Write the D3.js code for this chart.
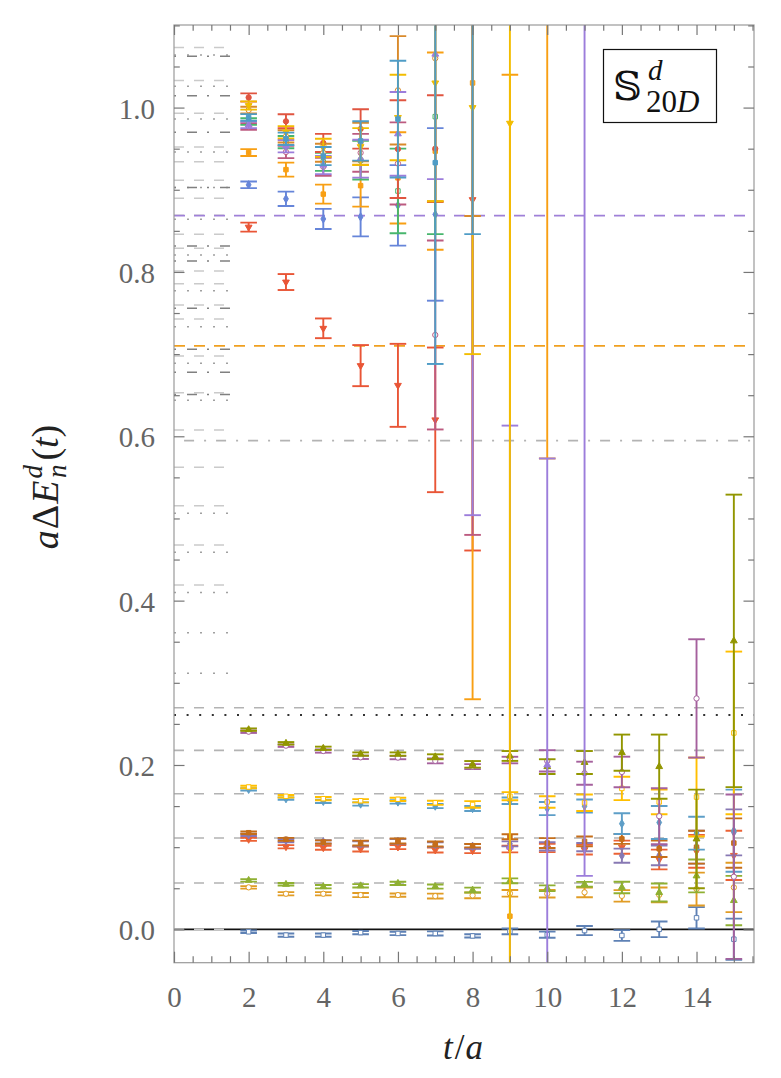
<!DOCTYPE html>
<html><head><meta charset="utf-8">
<script src="https://cdn.jsdelivr.net/npm/d3@7"></script>
<style>body{margin:0;background:#fff}</style>
</head><body>
<svg id="c" width="781" height="1078"></svg>
<script>
// ---------------- data ----------------
const T = [2,3,4,5,6,7,8,9,10,11,12,13,14,15];

// lower band (t = 2..15)
const blueV   = [-0.003,-0.007,-0.007,-0.004,-0.005,-0.005,-0.008,-0.0025,-0.0065,-0.0015,-0.0075,0.0,0.014,-0.012];
const blueE   = [0.0015,0.002,0.002,0.002,0.002,0.0025,0.002,0.0035,0.0037,0.0055,0.0065,0.0095,0.013,0.025];
const orangeV = [0.0511,0.0433,0.0433,0.0417,0.0417,0.0405,0.0413,0.0438,0.0433,0.045,0.0407,0.042,0.049,0.051];
const orangeE = [0.0015,0.002,0.002,0.0025,0.002,0.003,0.0035,0.004,0.0045,0.006,0.007,0.009,0.02,0.03];
const greenV  = [0.0596,0.0548,0.0519,0.053,0.056,0.052,0.0478,0.059,0.050,0.0548,0.051,0.0448,0.065,0.035];
const greenE  = [0.0015,0.0015,0.002,0.002,0.002,0.0025,0.003,0.003,0.0035,0.003,0.007,0.011,0.02,0.03];
const redV    = [0.1095,0.1005,0.0993,0.0977,0.1001,0.0965,0.0957,0.0977,0.099,0.097,0.10,0.085,0.095,0.09];
const redE    = [0.0018,0.002,0.0025,0.003,0.0025,0.003,0.003,0.004,0.005,0.006,0.008,0.012,0.02,0.03];
const purpleV = [0.115,0.108,0.1065,0.104,0.107,0.103,0.101,0.104,0.101,0.100,0.0896,0.09,0.10,0.118];
const purpleE = [0.0015,0.002,0.002,0.003,0.003,0.003,0.003,0.003,0.005,0.005,0.0086,0.012,0.02,0.028];
const brownV  = [0.1176,0.1095,0.1062,0.105,0.1075,0.1038,0.1018,0.1127,0.105,0.107,0.11,0.098,0.10,0.105];
const brownE  = [0.0015,0.0018,0.002,0.003,0.003,0.003,0.002,0.003,0.006,0.006,0.006,0.01,0.02,0.03];
const ltblueV = [0.1704,0.159,0.1558,0.1525,0.155,0.150,0.147,0.1565,0.147,0.15,0.1286,0.13,0.117,0.12];
const ltblueE = [0.0015,0.0015,0.002,0.002,0.002,0.0025,0.003,0.004,0.008,0.008,0.0126,0.02,0.02,0.05];
const yellowV = [0.1732,0.1619,0.159,0.1565,0.1582,0.154,0.152,0.162,0.155,0.154,0.1715,0.155,0.161,0.239];
const yellowE = [0.0015,0.0015,0.002,0.002,0.002,0.0025,0.004,0.005,0.007,0.01,0.0142,0.015,0.048,0.099];
const pinkV   = [0.2405,0.2235,0.217,0.2093,0.209,0.205,0.198,0.206,0.205,0.19,0.1915,0.1377,0.281,0.064];
const pinkE   = [0.0015,0.0015,0.002,0.002,0.002,0.003,0.003,0.004,0.013,0.014,0.0186,0.034,0.072,0.1];
const oliveV  = [0.243,0.2264,0.2203,0.2133,0.2133,0.21,0.2008,0.211,0.198,0.203,0.215,0.198,0.11,0.351];
const oliveE  = [0.0015,0.0015,0.002,0.002,0.002,0.003,0.004,0.006,0.009,0.014,0.022,0.039,0.06,0.178];

// upper band (t = 2..11, missing values = null)
const redTriV    = [0.8545,0.7877,0.7314,0.686,0.662,0.62,0.888];
const redTriE    = [0.0055,0.0097,0.012,0.025,0.0505,0.088,0.427];
const blueDiaV   = [0.906,0.889,0.8645,0.867,0.881,0.87];
const blueDiaE   = [0.004,0.0087,0.0122,0.0237,0.049,0.105];
const orangeSqV  = [0.9453,0.9245,0.8947,0.905,0.9145,0.947,1.03,0.016,1.3];
const orangeSqE  = [0.0042,0.0085,0.0116,0.0255,0.0555,0.12,0.75,1.024,0.727];
const mauveV     = [0.977,0.946,0.928,0.945,0.932,0.7233,1.2];
const mauveE     = [0.004,0.0075,0.011,0.023,0.05,0.115,0.72];
const greenSqV   = [0.983,0.958,0.934,0.936,0.8985,0.989];
const greenSqE   = [0.004,0.0075,0.011,0.0235,0.0515,0.143];
const redCircV   = [1.0123,0.9833,0.957,0.974,0.9495,0.95];
const redCircE   = [0.005,0.0085,0.011,0.024,0.0595,0.065];
const orCircV    = [0.997,0.965,0.945,0.958,1.021,1.06,1.2];
const orCircE    = [0.004,0.0075,0.011,0.0235,0.066,0.174,0.332];
const lavV       = [0.979,0.953,0.93,0.9378,0.968,1.065,1.2,0.1,0.2,1.3];
const lavE       = [0.004,0.0075,0.011,0.023,0.051,0.152,0.696,0.513,0.373,1.235];
const yellowTriV = [1.0025,0.97,0.951,0.9525,0.988,1.03,1.0,0.981];
const yellowTriE = [0.005,0.0075,0.011,0.0225,0.052,0.144,0.30,1.1];
const tealV      = [0.988,0.962,0.941,0.9594,0.986,0.933,1.2];
const tealE      = [0.004,0.0075,0.011,0.024,0.071,0.245,0.354];

// reference levels
const refDashed  = [1.073,1.033,0.993,0.952,0.934,0.9115,0.8896,0.869,0.8458,0.8288,0.801,0.7857,0.7598,0.7427,0.6977,0.653,0.6077,0.5622,0.5155,0.4677,0.419,0.0];
const refDotted  = [1.064,1.026,0.986,0.946,0.9026,0.864,0.8206,0.777,0.7334,0.6888,0.644,0.5063,0.4588,0.410,0.361,0.3115];
const refDashDot = [1.0624,1.0145,0.970,0.9026,0.8316,0.8133,0.7557,0.7058,0.6779,0.651];
const fullGrayDashed = [0.2697,0.2178,0.165,0.1111,0.0563];
const blackDotted = 0.2608;
const purpleLevel = 0.8685;
const orangeLevel = 0.710;
const grayDashDot = 0.5947;

const yMajor = [0,0.2,0.4,0.6,0.8,1.0];
const yLabels = ["0.0","0.2","0.4","0.6","0.8","1.0"];
const xMajor = [0,2,4,6,8,10,12,14];

// ---------------- drawing ----------------
const svg = d3.select('#c');
const x = d3.scaleLinear().domain([0, 15.54]).range([174, 754]);
const y = d3.scaleLinear().domain([-0.0406, 1.1005]).range([962.7, 25]);
const X0 = x.range()[0], X1 = x.range()[1], Y0 = y.range()[1], Y1 = y.range()[0];

svg.append('defs').append('clipPath').attr('id','clip')
  .append('rect').attr('x',X0).attr('y',Y0).attr('width',X1-X0).attr('height',Y1-Y0);

const plot = svg.append('g').attr('clip-path','url(#clip)');

function shortLines(vals, color, dash, w){
  plot.append('g').selectAll('line').data(vals).join('line')
    .attr('x1', x(0)).attr('x2', x(1.5))
    .attr('y1', d=>y(d)).attr('y2', d=>y(d))
    .attr('stroke', color).attr('stroke-width', w).attr('stroke-dasharray', dash);
}
function fullLine(v, color, dash, w, x0){
  plot.append('line').attr('x1', x(x0||0)).attr('x2', X1)
    .attr('y1', y(v)).attr('y2', y(v))
    .attr('stroke', color).attr('stroke-width', w).attr('stroke-dasharray', dash);
}
fullGrayDashed.forEach(v=>fullLine(v,'#b3b3b3','10,10',1.6));
fullLine(blackDotted,'#333','2,10.6',1.8);
fullLine(grayDashDot,'#b3b3b3','10,10,2,10',1.6,0.27);
fullLine(0,'#111',null,1.8);
shortLines(refDashed,'#cacaca','10,10',1.5);
shortLines(refDotted,'#a0a0a0','2,11',1.5);
shortLines(refDashDot,'#808080','2,11,10,10',1.5);
fullLine(purpleLevel,'#9f80d8','11,9',1.6);
fullLine(orangeLevel,'#f0a020','11,9',1.6);

const series = [
  {v:blueV, e:blueE, c:'#5e81b5', m:'square', hollow:true},
  {v:orangeV, e:orangeE, c:'#e19c24', m:'circle', hollow:true},
  {v:greenV, e:greenE, c:'#8fb032', m:'tri'},
  {v:redV, e:redE, c:'#eb6235', m:'dtri'},
  {v:purpleV, e:purpleE, c:'#8778b3', m:'diamond'},
  {v:brownV, e:brownE, c:'#c56e1a', m:'square'},
  {v:ltblueV, e:ltblueE, c:'#5d9ec7', m:'diamond'},
  {v:yellowV, e:yellowE, c:'#ffbf00', m:'square', hollow:true},
  {v:pinkV, e:pinkE, c:'#a5609d', m:'circle', hollow:true},
  {v:oliveV, e:oliveE, c:'#929600', m:'tri'},
  {v:redTriV, e:redTriE, c:'#e95536', m:'dtri'},
  {v:blueDiaV, e:blueDiaE, c:'#6685d9', m:'diamond'},
  {v:orangeSqV, e:orangeSqE, c:'#f89f13', m:'square'},
  {v:mauveV, e:mauveE, c:'#bc5b80', m:'circle', hollow:true},
  {v:greenSqV, e:greenSqE, c:'#47b66d', m:'square', hollow:true},
  {v:redCircV, e:redCircE, c:'#e05540', m:'circle'},
  {v:orCircV, e:orCircE, c:'#d98a2b', m:'circle', hollow:true},
  {v:lavV, e:lavE, c:'#9c7ddb', m:'tri'},
  {v:yellowTriV, e:yellowTriE, c:'#f2bd00', m:'dtri'},
  {v:tealV, e:tealE, c:'#4f9cc6', m:'square'}
];

const capW = 8.3;
const symType = {circle:d3.symbolCircle, square:d3.symbolSquare, diamond:d3.symbolDiamond, tri:d3.symbolTriangle, dtri:d3.symbolTriangle};
series.forEach(s=>{
  const g = plot.append('g');
  const pts = T.map((t,i)=>({t, v:s.v[i], e:s.e[i]})).filter(d=>d.v!=null);
  g.selectAll('line.bar').data(pts).join('line').attr('class','bar')
    .attr('x1',d=>x(d.t)).attr('x2',d=>x(d.t))
    .attr('y1',d=>y(d.v-d.e)).attr('y2',d=>y(d.v+d.e))
    .attr('stroke',s.c).attr('stroke-width',1.9);
  [1,-1].forEach(sg=>{
    g.selectAll('line.cap'+(sg>0?'u':'d')).data(pts).join('line').attr('class','cap'+(sg>0?'u':'d'))
      .attr('x1',d=>x(d.t)-capW).attr('x2',d=>x(d.t)+capW)
      .attr('y1',d=>y(d.v+sg*d.e)).attr('y2',d=>y(d.v+sg*d.e))
      .attr('stroke',s.c).attr('stroke-width',1.9);
  });
  const sym = d3.symbol().type(symType[s.m]).size(s.m==='circle'?22:20);
  g.selectAll('path').data(pts).join('path')
    .attr('d', sym)
    .attr('transform', d=>`translate(${x(d.t)},${y(d.v)})${s.m==='dtri'?' rotate(180)':''}`)
    .attr('fill', s.hollow?'#fff':s.c).attr('stroke', s.c).attr('stroke-width', 1);
});

// frame
svg.append('rect').attr('x',X0).attr('y',Y0).attr('width',X1-X0).attr('height',Y1-Y0)
  .attr('fill','none').attr('stroke','#9a9a9a').attr('stroke-width',1.2);

// ticks
const tickC = '#777';
const serif = "'Liberation Serif', 'DejaVu Serif', serif";
const yMinor = d3.range(0, 1.1001, 0.05).map(v=>+v.toFixed(2)).filter(v=>!yMajor.some(m=>Math.abs(m-v)<1e-6));
const axL = d3.axisLeft(y).tickValues(yMajor).tickSize(-10.5).tickFormat((d,i)=>yLabels[i]).tickPadding(19);
const gL = svg.append('g').attr('transform',`translate(${X0},0)`).call(axL);
gL.select('.domain').remove();
gL.selectAll('.tick line').attr('stroke',tickC).attr('stroke-width',1.2);
gL.selectAll('.tick text').style('font-family',serif).attr('font-size',29).attr('fill','#656565').attr('dy','0.36em');
const gLm = svg.append('g').attr('transform',`translate(${X0},0)`).call(d3.axisLeft(y).tickValues(yMinor).tickSize(-5.8).tickFormat(''));
gLm.select('.domain').remove(); gLm.selectAll('.tick line').attr('stroke',tickC).attr('stroke-width',1.2);

const gR = svg.append('g').attr('transform',`translate(${X1},0)`).call(d3.axisRight(y).tickValues(yMajor).tickSize(-10.5).tickFormat(''));
gR.select('.domain').remove(); gR.selectAll('.tick line').attr('stroke',tickC).attr('stroke-width',1.2);
const gRm = svg.append('g').attr('transform',`translate(${X1},0)`).call(d3.axisRight(y).tickValues(yMinor).tickSize(-5.8).tickFormat(''));
gRm.select('.domain').remove(); gRm.selectAll('.tick line').attr('stroke',tickC).attr('stroke-width',1.2);

const xMinor = d3.range(0, 15.51, 0.5).filter(v=>!xMajor.includes(v));
const gB = svg.append('g').attr('transform',`translate(0,${Y1})`).call(d3.axisBottom(x).tickValues(xMajor).tickSize(-11).tickFormat(d3.format('d')).tickPadding(24));
gB.select('.domain').remove();
gB.selectAll('.tick line').attr('stroke',tickC).attr('stroke-width',1.2);
gB.selectAll('.tick text').style('font-family',serif).attr('font-size',29).attr('fill','#656565').attr('dy','0.71em');
const gBm = svg.append('g').attr('transform',`translate(0,${Y1})`).call(d3.axisBottom(x).tickValues(xMinor).tickSize(-6.5).tickFormat(''));
gBm.select('.domain').remove(); gBm.selectAll('.tick line').attr('stroke',tickC).attr('stroke-width',1.2);
const gT = svg.append('g').attr('transform',`translate(0,${Y0})`).call(d3.axisTop(x).tickValues(xMajor).tickSize(-10).tickFormat(''));
gT.select('.domain').remove(); gT.selectAll('.tick line').attr('stroke',tickC).attr('stroke-width',1.2);
const gTm = svg.append('g').attr('transform',`translate(0,${Y0})`).call(d3.axisTop(x).tickValues(xMinor).tickSize(-5.7).tickFormat(''));
gTm.select('.domain').remove(); gTm.selectAll('.tick line').attr('stroke',tickC).attr('stroke-width',1.2);

// axis titles
const xt = svg.append('text').attr('x',463).attr('y',1059).attr('text-anchor','middle')
  .style('font-family',serif).attr('font-size',35).attr('fill','#222');
xt.append('tspan').attr('font-style','italic').text('t');
xt.append('tspan').attr('dx',2).text('/');
xt.append('tspan').attr('font-style','italic').attr('dx',1).text('a');

const yt = svg.append('text').attr('transform','translate(58,487) rotate(-90)').attr('text-anchor','middle')
  .style('font-family',serif).attr('font-size',38).attr('fill','#222');
yt.append('tspan').attr('font-style','italic').text('a');
yt.append('tspan').attr('dx',1).text('Δ');
yt.append('tspan').attr('font-style','italic').attr('dx',1).text('E');
yt.append('tspan').attr('font-style','italic').attr('font-size',27).attr('dy',-16).attr('dx',2).text('d');
yt.append('tspan').attr('font-style','italic').attr('font-size',27).attr('dy',24).attr('dx',-13).text('n');
yt.append('tspan').attr('dy',-8).attr('dx',4).text('(');
yt.append('tspan').attr('font-style','italic').text('t');
yt.append('tspan').text(')');

// legend box
svg.append('rect').attr('x',603.5).attr('y',49.5).attr('width',113).attr('height',73)
  .attr('fill','#fff').attr('stroke','#111').attr('stroke-width',1.2);
svg.append('text').attr('x',613).attr('y',100).style('font-family',"'DejaVu Serif', 'DejaVu Sans', serif")
  .attr('font-size',40).attr('fill','#111').text('𝕊');
svg.append('text').attr('x',648).attr('y',80).style('font-family',serif).attr('font-style','italic')
  .attr('font-size',29).attr('fill','#111').text('d');
const sub = svg.append('text').attr('x',646).attr('y',112).style('font-family',serif)
  .attr('font-size',31).attr('fill','#111');
sub.append('tspan').text('20');
sub.append('tspan').attr('font-style','italic').text('D');
</script>
</body></html>
